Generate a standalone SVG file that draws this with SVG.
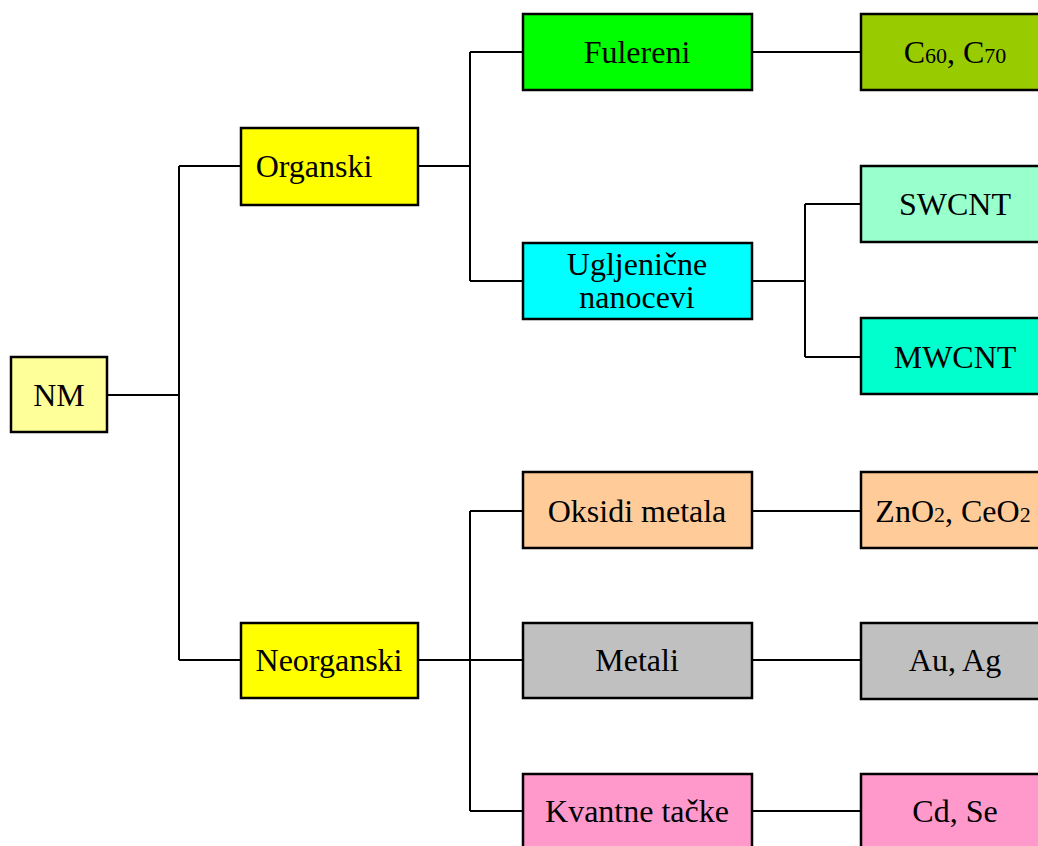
<svg xmlns="http://www.w3.org/2000/svg" width="1038" height="846" viewBox="0 0 1038 846">
<style>
.b{stroke:#000;stroke-width:2.5}
.t{font-family:"Liberation Serif","Times New Roman",serif;font-size:32px;fill:#000;text-anchor:middle}
.s{font-size:22px}
.c{fill:none;stroke:#000;stroke-width:2}
</style>
<rect width="1038" height="846" fill="#fff"/>
<g id="connectors">
<path class="c" d="M107 395H179M179 166V660M179 166H241M179 660H241"/>
<path class="c" d="M418 166H470M470 52V281M470 52H523M470 281H523"/>
<path class="c" d="M418 660H523M470 511V811M470 511H523M470 811H523"/>
<path class="c" d="M752 52H861M752 281H805M805 204V357M805 204H861M805 357H861"/>
<path class="c" d="M752 511H861M752 660H861M752 811H861"/>
</g>
<g id="nm"><rect class="b" x="11" y="357" width="96" height="75" fill="#ffff99"/><text class="t" x="59" y="406">NM</text></g>
<g id="organski"><rect class="b" x="241" y="128" width="177" height="77" fill="#ffff00"/><text class="t" x="314" y="177">Organski</text></g>
<g id="neorganski"><rect class="b" x="241" y="623" width="177" height="75" fill="#ffff00"/><text class="t" x="329" y="671">Neorganski</text></g>
<g id="fulereni"><rect class="b" x="523" y="14" width="229" height="76" fill="#00ff00"/><text class="t" x="637" y="63">Fulereni</text></g>
<g id="ugljenicne"><rect class="b" x="523" y="243" width="229" height="76" fill="#00ffff"/><text class="t" x="637" y="275">Ugljenične</text><text class="t" x="637" y="308">nanocevi</text></g>
<g id="oksidi"><rect class="b" x="523" y="472" width="229" height="76" fill="#ffcc99"/><text class="t" x="637" y="522">Oksidi metala</text></g>
<g id="metali"><rect class="b" x="523" y="623" width="229" height="75" fill="#c0c0c0"/><text class="t" x="637" y="671">Metali</text></g>
<g id="kvantne"><rect class="b" x="523" y="774" width="229" height="90" fill="#ff99cc"/><text class="t" x="637" y="822">Kvantne tačke</text></g>
<g id="c60"><rect class="b" x="861" y="14" width="200" height="76" fill="#99cc00"/><text class="t" x="955" y="63">C<tspan class="s">60</tspan>, C<tspan class="s">70</tspan></text></g>
<g id="swcnt"><rect class="b" x="861" y="166" width="200" height="76" fill="#99ffcc"/><text class="t" x="955" y="215">SWCNT</text></g>
<g id="mwcnt"><rect class="b" x="861" y="318" width="200" height="76" fill="#00ffcc"/><text class="t" x="955" y="368">MWCNT</text></g>
<g id="zno"><rect class="b" x="861" y="472" width="200" height="76" fill="#ffcc99"/><text class="t" x="953" y="522">ZnO<tspan class="s">2</tspan>, CeO<tspan class="s">2</tspan></text></g>
<g id="auag"><rect class="b" x="861" y="623" width="200" height="76" fill="#c0c0c0"/><text class="t" x="955" y="671">Au, Ag</text></g>
<g id="cdse"><rect class="b" x="861" y="774" width="200" height="90" fill="#ff99cc"/><text class="t" x="955" y="822">Cd, Se</text></g>
</svg>
